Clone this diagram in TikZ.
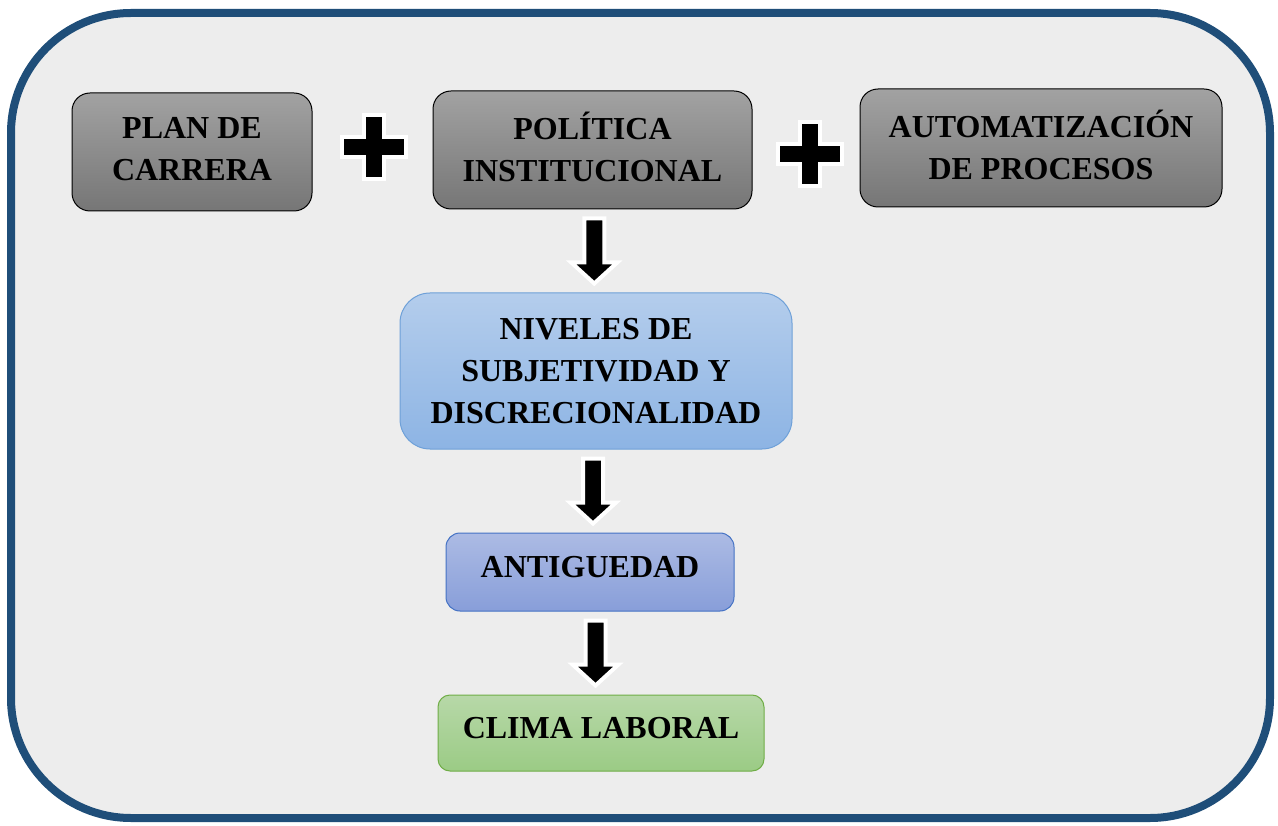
\documentclass[tikz,border=0pt]{standalone}
\usepackage{fontspec}
\setmainfont{Liberation Serif}
\usetikzlibrary{calc}

\definecolor{framecol}{RGB}{31,78,121}
\definecolor{framebg}{RGB}{237,237,237}
\definecolor{gtop}{RGB}{162,162,162}
\definecolor{gbot}{RGB}{118,118,118}
\definecolor{btop}{RGB}{180,205,236}
\definecolor{bbot}{RGB}{141,180,228}
\definecolor{bline}{RGB}{110,160,216}
\definecolor{ptop}{RGB}{172,187,228}
\definecolor{pbot}{RGB}{136,158,217}
\definecolor{pline}{RGB}{68,114,196}
\definecolor{ctop}{RGB}{183,216,168}
\definecolor{cbot}{RGB}{155,203,133}
\definecolor{cline}{RGB}{112,173,71}

\begin{document}
\begin{tikzpicture}[x=1pt,y=-1pt,
  box/.style={rectangle, align=center, inner sep=0pt, line width=1pt,
    font=\fontsize{32}{42}\selectfont\bfseries},
  graybox/.style={box, draw=black, top color=gtop, bottom color=gbot, rounded corners=18pt, text depth=6pt},
  bluebox/.style={box, draw=bline, top color=btop, bottom color=bbot, rounded corners=30pt},
  purplebox/.style={box, draw=pline, top color=ptop, bottom color=pbot, rounded corners=14pt, text depth=10pt},
  greenbox/.style={box, draw=cline, top color=ctop, bottom color=cbot, rounded corners=12pt, text depth=10pt},
  marker/.style={draw=white, line width=4pt, fill=black, line join=miter, miter limit=10},
  blockarr/.style={marker,
    to path={let \p1=(\tikztostart), \p2=(\tikztotarget),
                 \p3=($(\tikztostart)!0.5!(\tikztotarget)$) in
      (\x3-10pt,\y1-9pt) -- (\x3+10pt,\y1-9pt) -- (\x3+10pt,\y2+30pt)
      -- (\x3+23pt,\y2+30pt) -- (\x3,\y2+9pt) -- (\x3-23pt,\y2+30pt)
      -- (\x3-10pt,\y2+30pt) -- cycle}},
  pics/plussign/.style={code={
    \draw[marker] (-10,-32) -- (10,-32) -- (10,-10) -- (32,-10) -- (32,10)
      -- (10,10) -- (10,32) -- (-10,32) -- (-10,10) -- (-32,10) -- (-32,-10)
      -- (-10,-10) -- cycle;}}
]
% page and outer frame
\fill[white] (0,0) rectangle (1278,826);
\useasboundingbox (0,0) rectangle (1278,826);
\draw[framecol, line width=8pt, fill=framebg, rounded corners=120pt]
  (11,13) rectangle (1270,818);

% top row of factors
\node[graybox, minimum width=240pt, minimum height=118pt] (plan) at (192,152) {PLAN DE\\CARRERA};
\node[graybox, minimum width=319pt, minimum height=118pt] (pol) at (592.5,150) {POLÍTICA\\INSTITUCIONAL};
\node[graybox, minimum width=362pt, minimum height=118pt] (auto) at (1041,148) {AUTOMATIZACIÓN\\DE PROCESOS};

% plus signs between the factors
\pic at (374,147) {plussign};
\pic at (810,154) {plussign};

% chain of consequences
\node[bluebox, minimum width=392pt, minimum height=156pt] (niv) at (596,371) {NIVELES DE\\SUBJETIVIDAD Y\\DISCRECIONALIDAD};
\node[purplebox, minimum width=288pt, minimum height=78pt] (ant) at (590,572) {ANTIGUEDAD};
\node[greenbox, minimum width=326pt, minimum height=76pt] (clima) at (601,733) {CLIMA LABORAL};

% block arrows
\draw[blockarr] (pol.south) to (niv.north);
\draw[blockarr] (niv.south) to (ant.north);
\draw[blockarr] (ant.south) to (clima.north);
\end{tikzpicture}
\end{document}
